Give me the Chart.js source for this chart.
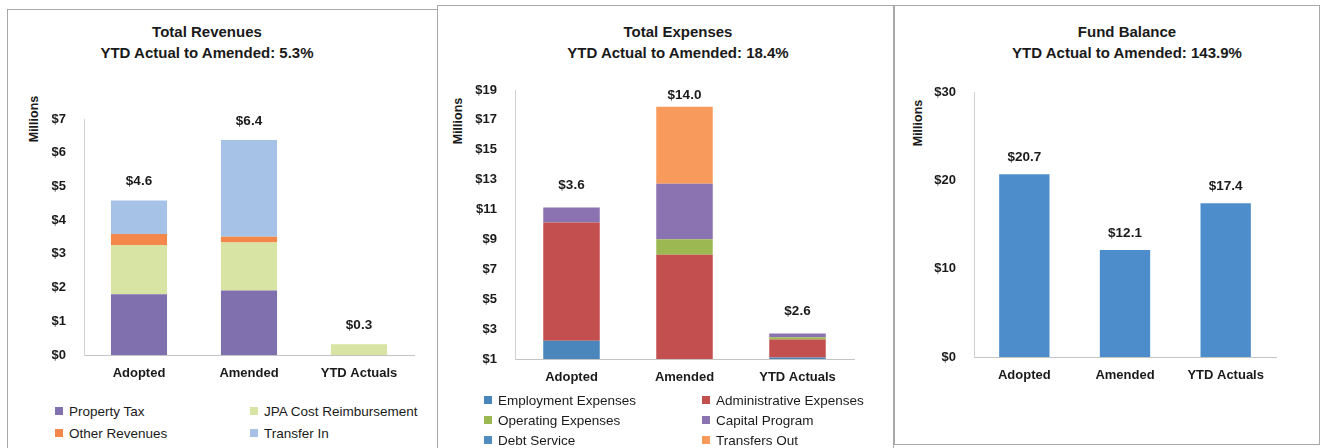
<!DOCTYPE html>
<html>
<head>
<meta charset="utf-8">
<script src="https://cdn.jsdelivr.net/npm/chart.js@4.4.1/dist/chart.umd.min.js"></script>
<style>
  body { margin: 0; width: 1324px; height: 448px; background: #fff; position: relative; overflow: hidden;
         font-family: "Liberation Sans", Arial, sans-serif; color: #1a1a1a; }
  .panel { position: absolute; border: 1px solid #a8a8a8; }
  .title { position: absolute; width: 360px; text-align: center; font-weight: bold; font-size: 15px; line-height: 21px; }
  .units { position: absolute; font-weight: bold; font-size: 12.5px; transform: rotate(-90deg); transform-origin: center; }
  canvas { position: absolute; }
  .legend { position: absolute; display: grid; font-size: 13.5px; row-gap: 0; }
  .legend div { display: flex; align-items: center; white-space: nowrap; }
  .legend span { display: inline-block; width: 8px; height: 8px; margin-right: 6px; }
</style>
</head>
<body>
<div class="panel" style="left:7px; top:9px; width:429px; height:445px;"></div>
<div class="panel" style="left:437px; top:5px; width:455px; height:449px;"></div>
<div class="panel" style="left:894px; top:5px; width:424px; height:438px;"></div>

<div class="title" style="left:27px; top:21px;">Total Revenues<br>YTD Actual to Amended: 5.3%</div>
<div class="title" style="left:498px; top:21px;">Total Expenses<br>YTD Actual to Amended: 18.4%</div>
<div class="title" style="left:947px; top:21px;">Fund Balance<br>YTD Actual to Amended: 143.9%</div>

<div class="units" style="left:11px; top:112px;">Millions</div>
<div class="units" style="left:435px; top:114px;">Millions</div>
<div class="units" style="left:895px; top:116px;">Millions</div>

<canvas id="revChart" width="400" height="310" style="left:20px; top:80px;"></canvas>
<canvas id="expChart" width="410" height="334" style="left:452px; top:60px;"></canvas>
<canvas id="fundChart" width="375" height="332" style="left:911px; top:60px;"></canvas>

<div class="legend" id="revLegend" style="left:55px; top:400px; grid-template-columns:195px 195px; grid-auto-rows:22px;"></div>
<div class="legend" id="expLegend" style="left:484px; top:390px; grid-template-columns:218px 218px; grid-auto-rows:20px;"></div>

<script>
// kategori sumbu x
const categories = ["Adopted", "Amended", "YTD Actuals"];

// pendapatan (juta)
const propertyTax = [1.80, 1.91, 0];
const jpaCost = [1.46, 1.43, 0.32];
const otherRevenues = [0.33, 0.17, 0];
const transferIn = [0.99, 2.87, 0];

// pengeluaran (juta)
const employment = [2.22, 0, 1.10];
const administrative = [7.91, 7.97, 1.20];
const operating = [0, 1.05, 0.15];
const capitalProgram = [1.00, 3.70, 0.25];
const debtService = [0, 0, 0];
const transfersOut = [0, 5.16, 0];
const expenseLabels = [3.6, 14.0, 2.6];

// saldo dana (juta)
const fundBalance = [20.7, 12.1, 17.4];

// tick sumbu y
const revTicks = [0, 1, 2, 3, 4, 5, 6, 7];
const expTicks = [1, 3, 5, 7, 9, 11, 13, 15, 17, 19];
const fundTicks = [0, 10, 20, 30];

const tickFont = { family: "Liberation Sans", size: 13, weight: "bold" };
const catFont = { family: "Liberation Sans", size: 13, weight: "bold" };

// label nilai di atas setiap batang
const stackLabels = {
  id: "stackLabels",
  afterDatasetsDraw(chart, args, opts) {
    const ctx = chart.ctx;
    const y = chart.scales.y;
    ctx.save();
    ctx.font = "bold 13.5px 'Liberation Sans'";
    ctx.fillStyle = "#1a1a1a";
    ctx.textAlign = "center";
    ctx.textBaseline = "middle";
    opts.values.forEach((v, i) => {
      const x = chart.scales.x.getPixelForValue(i);
      let top = y.getPixelForValue(opts.tops[i]) - opts.gap;
      top = Math.max(top, chart.chartArea.top + opts.ceiling);
      ctx.fillText("$" + v.toFixed(1), x, top);
    });
    ctx.restore();
  },
};

function sumSeries(list) {
  return categories.map((c, i) => list.reduce((s, arr) => s + arr[i], 0));
}

function makeOptions(yWidth, pad, ticks, min, max, labels, tops, gap, ceiling) {
  return {
    responsive: false,
    animation: false,
    layout: { padding: pad },
    plugins: {
      legend: { display: false },
      tooltip: { enabled: false },
      stackLabels: { values: labels, tops: tops, gap: gap, ceiling: ceiling },
    },
    scales: {
      x: {
        stacked: true,
        grid: { display: false, drawTicks: false },
        border: { color: "#c4c4c4", dash: [2, 3] },
        ticks: { font: catFont, color: "#1a1a1a", padding: 11 },
        afterFit(s) { s.height = 30; },
      },
      y: {
        stacked: true,
        min: min,
        max: max,
        grid: { display: false, drawTicks: false },
        border: { color: "#d0d0d0", dash: [2, 3] },
        afterBuildTicks(s) { s.ticks = ticks.map((v) => ({ value: v })); },
        ticks: { font: tickFont, color: "#1a1a1a", padding: 18, callback: (v) => "$" + v },
        afterFit(s) { s.width = yWidth; },
      },
    },
  };
}

function buildLegend(chart, el) {
  chart.data.datasets.forEach((ds) => {
    const item = document.createElement("div");
    item.innerHTML = '<span style="background:' + ds.backgroundColor + '"></span>' + ds.label;
    el.appendChild(item);
  });
}

function bar(label, data, color, pct) {
  return { label: label, data: data, backgroundColor: color, barPercentage: pct, categoryPercentage: 1, borderWidth: 0 };
}

// Total Revenues
const revSeries = [propertyTax, jpaCost, otherRevenues, transferIn];
const revTotals = sumSeries(revSeries);
const revChart = new Chart(document.getElementById("revChart"), {
  type: "bar",
  data: {
    labels: categories,
    datasets: [
      bar("Property Tax", propertyTax, "#8070ad", 0.51),
      bar("JPA Cost Reimbursement", jpaCost, "#d7e4a3", 0.51),
      bar("Other Revenues", otherRevenues, "#f4884a", 0.51),
      bar("Transfer In", transferIn, "#a6c2e6", 0.51),
    ],
  },
  options: makeOptions(64, { top: 39, right: 6, bottom: 5, left: 0 }, revTicks, 0, 7, revTotals, revTotals, 19, -12),
  plugins: [stackLabels],
});
buildLegend(revChart, document.getElementById("revLegend"));

// Total Expenses
const expSeries = [employment, administrative, operating, capitalProgram, debtService, transfersOut];
const expTops = sumSeries(expSeries);
const expChart = new Chart(document.getElementById("expChart"), {
  type: "bar",
  data: {
    labels: categories,
    datasets: [
      bar("Employment Expenses", employment, "#4a86bb", 0.5),
      bar("Administrative Expenses", administrative, "#c44f4f", 0.5),
      bar("Operating Expenses", operating, "#9cb852", 0.5),
      bar("Capital Program", capitalProgram, "#8a73b0", 0.5),
      bar("Debt Service", debtService, "#4f8cc0", 0.5),
      bar("Transfers Out", transfersOut, "#f89a5b", 0.5),
    ],
  },
  options: makeOptions(63, { top: 30, right: 8, bottom: 5, left: 0 }, expTicks, 1, 19, expenseLabels, expTops, 22, 5),
  plugins: [stackLabels],
});
buildLegend(expChart, document.getElementById("expLegend"));

// Fund Balance
const fundChart = new Chart(document.getElementById("fundChart"), {
  type: "bar",
  data: {
    labels: categories,
    datasets: [bar("Fund Balance", fundBalance, "#4d8dcb", 0.5)],
  },
  options: makeOptions(63, { top: 32, right: 10, bottom: 5, left: 0 }, fundTicks, 0, 30, fundBalance, fundBalance, 17, -20),
  plugins: [stackLabels],
});
</script>
</body>
</html>
